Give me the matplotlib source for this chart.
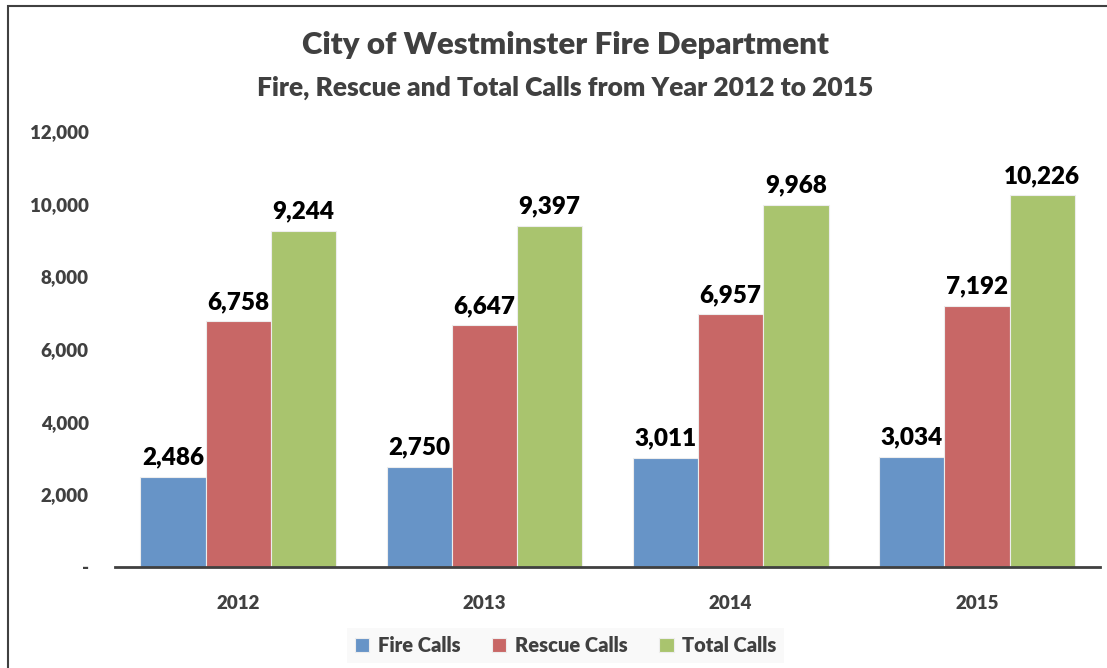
import numpy as np
import matplotlib.pyplot as plt
from matplotlib.patches import Rectangle

years = ['2012', '2013', '2014', '2015']
fire_calls = [2486, 2750, 3011, 3034]
rescue_calls = [6758, 6647, 6957, 7192]
total_calls = [9244, 9397, 9968, 10226]

series_names = ['Fire Calls', 'Rescue Calls', 'Total Calls']
colors = ['#6794C7', '#C86766', '#A9C46E']

plt.rcParams['font.family'] = ['Lato', 'DejaVu Sans']

fig = plt.figure(figsize=(11.07, 6.68), dpi=100)
ax = fig.add_axes([0.1039, 0.1512, 0.8898, 0.6527])

x = np.arange(len(years))
w = 0.265
for i, (vals, name, c) in enumerate(zip([fire_calls, rescue_calls, total_calls], series_names, colors)):
    bars = ax.bar(x + (i - 1) * w, vals, w, color=c, edgecolor='#EDEDED', linewidth=0.8, label=name)
    for b, v in zip(bars, vals):
        ax.annotate(f'{v:,}', (b.get_x() + b.get_width() / 2, v), xytext=(0, 6),
                    textcoords='offset points', ha='center', va='bottom',
                    fontsize=17.5, fontweight='heavy', color='black')

ax.set_xlim(-0.5, 3.5)
ax.set_ylim(0, 12000)
ax.set_yticks(range(0, 12001, 2000))
ax.set_yticklabels(['-'] + [f'{t:,}' for t in range(2000, 12001, 2000)])
ax.set_xticks(x)
ax.set_xticklabels(years)
for lab in ax.get_xticklabels() + ax.get_yticklabels():
    lab.set_fontweight('heavy')
    lab.set_fontsize(13.5)
    lab.set_color('#404040')
ax.tick_params(axis='both', length=0)
ax.tick_params(axis='x', pad=20)
ax.tick_params(axis='y', pad=19)
for s in ['top', 'right', 'left']:
    ax.spines[s].set_visible(False)
ax.spines['bottom'].set_color('#404040')
ax.spines['bottom'].set_linewidth(2)

fig.text(0.511, 0.933, 'City of Westminster Fire Department', ha='center', va='center',
         fontsize=22.5, fontweight='heavy', color='#404040')
fig.text(0.511, 0.868, 'Fire, Rescue and Total Calls from Year 2012 to 2015', ha='center', va='center',
         fontsize=19, fontweight='heavy', color='#404040')

leg = fig.legend(loc='center', bbox_to_anchor=(0.511, 0.034), ncol=3, frameon=True,
                 fancybox=False, handlelength=0.7, handleheight=0.7, handletextpad=0.4,
                 columnspacing=1.6, prop={'weight': 'heavy', 'size': 14.5})
leg.get_frame().set_facecolor('#F8F8F8')
leg.get_frame().set_edgecolor('none')
for t in leg.get_texts():
    t.set_color('#404040')

# outer chart frame (cut at right and bottom)
fig.patches.append(Rectangle((8 / 1107, -0.1), 1.2, 1 - 6 / 668 + 0.1, transform=fig.transFigure,
                             fill=False, edgecolor='#404040', linewidth=1.5))

fig.savefig('out.png', dpi=100)
